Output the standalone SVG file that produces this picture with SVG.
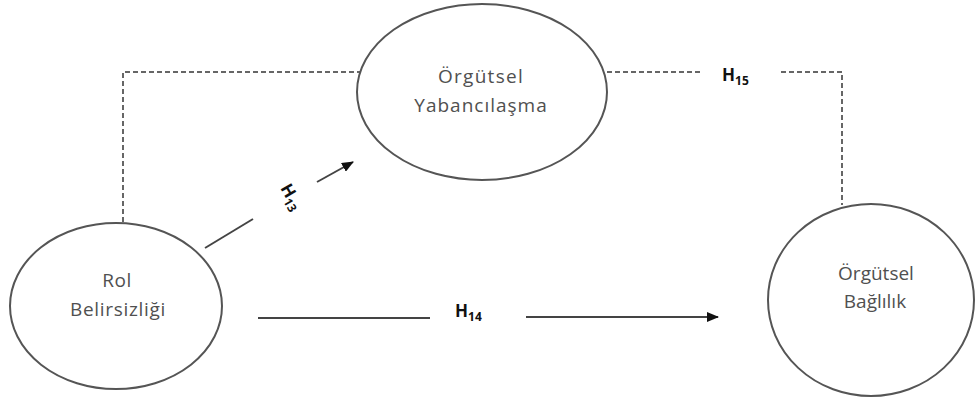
<svg xmlns="http://www.w3.org/2000/svg" width="976" height="398" viewBox="0 0 976 398">
<style>
.node ellipse{fill:#fff;stroke:#555;stroke-width:2}
.lbl{font-family:"Open Sans","Liberation Sans",sans-serif;font-size:19px;fill:#505050;text-anchor:middle}
.dash{fill:none;stroke:#666;stroke-width:2;stroke-dasharray:5 3}
.solid{fill:none;stroke:#444;stroke-width:2}
.h{font-family:"Open Sans","Liberation Sans",sans-serif;font-weight:bold;font-size:17px;fill:#111}
.sub{font-size:12px}
</style>
<defs>
<marker id="arr" viewBox="0 0 12 10" refX="11" refY="5" markerWidth="12" markerHeight="10" markerUnits="userSpaceOnUse" orient="auto">
<path d="M0,0 L12,5 L0,10 Z" fill="#111"/>
</marker>
</defs>
<rect width="976" height="398" fill="#fff"/>
<g id="connectors">
<polyline class="dash" points="123,222 123,72 360,72"/>
<polyline class="dash" points="607,72 700,72"/>
<polyline class="dash" points="781,72 842,72 842,205"/>
<line class="solid" x1="205" y1="248" x2="253" y2="219"/>
<line class="solid" x1="317" y1="182" x2="353" y2="162" marker-end="url(#arr)"/>
<line class="solid" x1="258" y1="318" x2="430" y2="318"/>
<line class="solid" x1="526" y1="317" x2="718" y2="317" marker-end="url(#arr)"/>
<text class="h" transform="translate(280,188) rotate(60)">H<tspan class="sub" dy="4">13</tspan></text>
<text class="h" x="455" y="317">H<tspan class="sub" dy="4">14</tspan></text>
<text class="h" x="722" y="81">H<tspan class="sub" dy="4">15</tspan></text>
</g>
<g id="rol" class="node">
<ellipse cx="116" cy="306" rx="106" ry="83"/>
<text class="lbl" x="117" y="287" letter-spacing="0.5">Rol</text>
<text class="lbl" x="118" y="316" letter-spacing="0.7">Belirsizliği</text>
</g>
<g id="yabancilasma" class="node">
<ellipse cx="482" cy="92" rx="125" ry="88"/>
<text class="lbl" x="481" y="83" letter-spacing="1.3">Örgütsel</text>
<text class="lbl" x="481" y="112" letter-spacing="1">Yabancılaşma</text>
</g>
<g id="baglilik" class="node">
<ellipse cx="871" cy="300" rx="103" ry="96"/>
<text class="lbl" x="876" y="280">Örgütsel</text>
<text class="lbl" x="875" y="308">Bağlılık</text>
</g>
</svg>
